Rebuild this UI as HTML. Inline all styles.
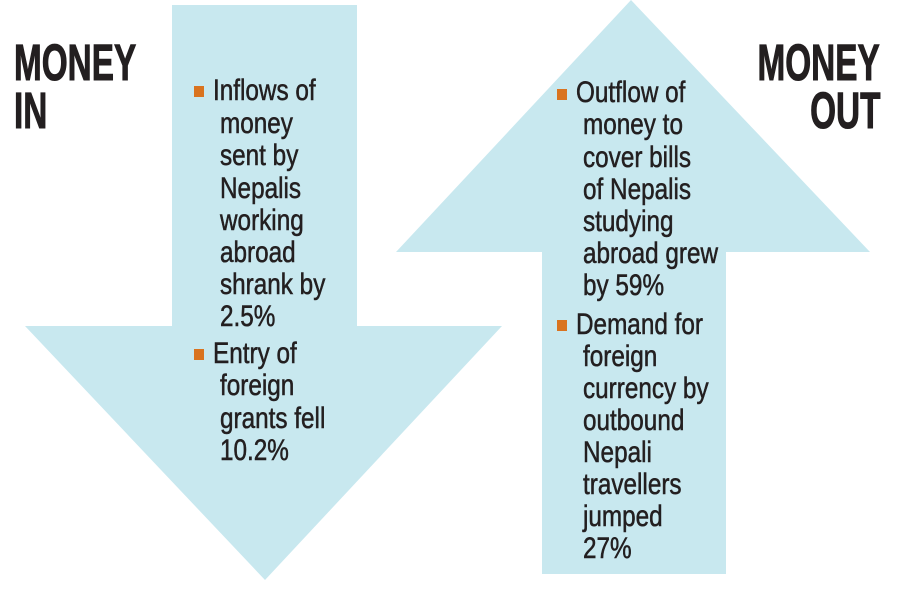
<!DOCTYPE html>
<html><head><meta charset="utf-8"><style>
html,body{margin:0;padding:0;background:#fff;width:900px;height:589px;overflow:hidden}
.t{position:absolute;font-family:"Liberation Sans",sans-serif;font-size:27px;line-height:32px;color:#231f20;white-space:nowrap;transform:scale(0.9,1.1);transform-origin:left center;-webkit-text-stroke:0.5px #231f20}
.b{position:absolute;width:10px;height:11px;background:#d9731f}
.h{position:absolute;font-family:"Liberation Sans",sans-serif;font-weight:bold;font-size:49px;line-height:48px;color:#231f20;white-space:nowrap;transform:scale(0.68,1.05);-webkit-text-stroke:1px #231f20}
</style></head><body>
<svg width="900" height="589" style="position:absolute;left:0;top:0">
<polygon points="172,5 357,5 357,326 502,326 265,580 25,326 172,326" fill="#c8e8ef"/>
<polygon points="631,0 870,252 726,252 726,574 542,574 542,252 396,252" fill="#c8e8ef"/>
</svg>
<div class="h" style="left:14px;top:38px;transform-origin:left top">MONEY</div>
<div class="h" style="left:14px;top:86px;transform-origin:left top">IN</div>
<div class="h" style="right:20px;top:38px;transform-origin:right top">MONEY</div>
<div class="h" style="right:20px;top:86px;transform-origin:right top">OUT</div>

<div class="b" style="left:194px;top:86px"></div>
<div class="t" style="left:213px;top:74px">Inflows of</div>
<div class="t" style="left:220px;top:107px">money</div>
<div class="t" style="left:220px;top:139px">sent by</div>
<div class="t" style="left:220px;top:172px">Nepalis</div>
<div class="t" style="left:220px;top:204px">working</div>
<div class="t" style="left:220px;top:236px">abroad</div>
<div class="t" style="left:220px;top:268px">shrank by</div>
<div class="t" style="left:220px;top:300px">2.5%</div>
<div class="b" style="left:194px;top:349px"></div>
<div class="t" style="left:213px;top:337px">Entry of</div>
<div class="t" style="left:220px;top:369px">foreign</div>
<div class="t" style="left:220px;top:402px">grants fell</div>
<div class="t" style="left:220px;top:434px">10.2%</div>

<div class="b" style="left:557px;top:89px"></div>
<div class="t" style="left:576px;top:76px">Outflow of</div>
<div class="t" style="left:583px;top:108px">money to</div>
<div class="t" style="left:583px;top:141px">cover bills</div>
<div class="t" style="left:583px;top:173px">of Nepalis</div>
<div class="t" style="left:583px;top:205px">studying</div>
<div class="t" style="left:583px;top:237px">abroad grew</div>
<div class="t" style="left:583px;top:269px">by 59%</div>
<div class="b" style="left:557px;top:320px"></div>
<div class="t" style="left:576px;top:308px">Demand for</div>
<div class="t" style="left:583px;top:340px">foreign</div>
<div class="t" style="left:583px;top:372px">currency by</div>
<div class="t" style="left:583px;top:404px">outbound</div>
<div class="t" style="left:583px;top:436px">Nepali</div>
<div class="t" style="left:583px;top:468px">travellers</div>
<div class="t" style="left:583px;top:500px">jumped</div>
<div class="t" style="left:583px;top:532px">27%</div>
</body></html>
